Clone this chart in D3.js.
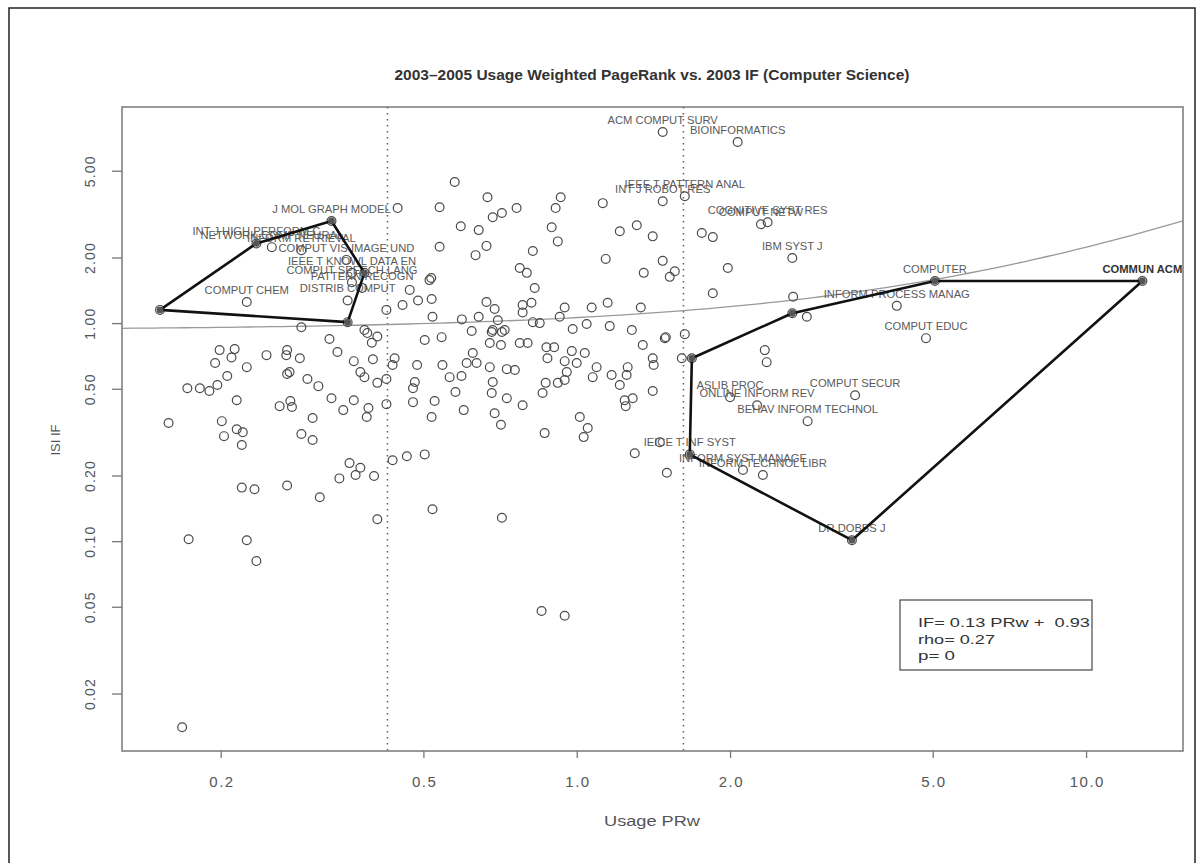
<!DOCTYPE html>
<html><head><meta charset="utf-8">
<script src="https://cdn.jsdelivr.net/npm/d3@7"></script>
<style>
html,body{margin:0;padding:0;background:#fff;}
svg{display:block;font-family:"Liberation Sans",Arial,sans-serif;}
</style></head>
<body><svg id="c" width="1199" height="863"></svg>
<script>
// ---------- data ----------
const title = "2003\u20132005 Usage Weighted PageRank vs. 2003 IF (Computer Science)";
const xTicks = [0.2, 0.5, 1, 2, 5, 10];
const xTickLabels = ["0.2", "0.5", "1.0", "2.0", "5.0", "10.0"];
const yTicks = [0.02, 0.05, 0.1, 0.2, 0.5, 1, 2, 5];
const yTickLabels = ["0.02", "0.05", "0.10", "0.20", "0.50", "1.00", "2.00", "5.00"];
const cutoffs = [0.425, 1.62];
const fitCoef = [0.13, 0.93]; // IF = a*PRw + b
const legendLines = ["IF= 0.13 PRw +  0.93", "rho= 0.27", "p= 0"];

const labelName = ["J MOL GRAPH MODEL","INT J HIGH PERFORM C","NETWORK-COMP NEURAL","INFORM RETRIEVAL",
  "COMPUT VIS IMAGE UND","IEEE T KNOWL DATA EN","COMPUT SPEECH LANG","PATTERN RECOGN","DISTRIB COMPUT","COMPUT CHEM",
  "ACM COMPUT SURV","BIOINFORMATICS","IEEE T PATTERN ANAL","INT J ROBOT RES","COGNITIVE SYST RES","COMPUT NETW",
  "IBM SYST J","COMPUTER","COMMUN ACM","INFORM PROCESS MANAG","COMPUT EDUC","ASLIB PROC","ONLINE INFORM REV",
  "COMPUT SECUR","BEHAV INFORM TECHNOL","IEICE T INF SYST","INFORM SYST MANAGE","INFORM TECHNOL LIBR","DR DOBBS J"];
const labelX = [0.330,0.235,0.252,0.288,0.353,0.362,0.362,0.379,0.355,0.225,
  1.475,2.07,1.63,1.475,2.37,2.30,2.65,5.05,12.9,4.25,4.85,2.00,2.26,3.52,2.84,1.667,2.12,2.32,3.47];
const labelY = [2.94,2.32,2.23,2.16,1.95,1.70,1.54,1.45,1.27,1.25,
  7.52,6.77,3.82,3.62,2.90,2.84,1.99,1.56,1.56,1.20,0.853,0.457,0.420,0.467,0.355,0.250,0.212,0.201,0.101];

const pointX = [0.152,0.383,0.355,0.445,0.538,0.538,0.576,0.514,0.518,0.470,0.488,0.519,0.521,0.423,0.455,0.288,0.383,
  0.199,0.213,0.210,0.195,0.225,0.206,0.172,0.182,0.190,0.197,0.215,0.158,0.201,0.215,0.221,0.203,0.220,
  0.246,0.270,0.269,0.286,0.273,0.270,0.296,0.311,0.261,0.276,0.274,0.303,0.288,0.303,0.327,0.339,0.330,0.348,
  0.365,0.390,0.387,0.365,0.376,0.383,0.398,0.406,0.423,0.396,0.406,0.388,0.439,0.435,0.423,0.486,0.481,0.477,
  0.477,0.526,0.519,0.545,0.503,0.543,0.358,0.376,0.368,0.400,0.342,0.435,0.464,0.503,0.220,0.233,0.270,0.313,
  0.406,0.521,0.173,0.225,0.235,0.168,
  0.622,0.681,0.713,0.710,0.675,0.773,0.801,0.872,0.903,0.876,0.978,1.037,0.947,1.00,0.608,0.625,0.636,0.675,
  0.729,0.756,0.563,0.594,0.684,0.681,0.729,0.578,0.600,0.690,0.710,0.783,0.857,0.869,0.918,0.947,0.956,
  1.094,1.075,1.171,1.215,1.253,1.259,1.242,1.288,1.248,1.410,1.416,1.410,1.348,1.489,1.630,1.608,0.865,1.014,
  1.051,1.032,1.300,1.503,0.713,0.853,0.947,
  0.668,0.684,0.713,0.762,0.592,0.642,0.893,0.909,0.930,0.918,0.665,0.633,0.820,0.773,0.798,0.827,1.125,1.215,
  1.312,1.410,1.140,1.354,1.475,1.558,1.523,0.665,0.690,0.783,0.783,0.815,0.642,0.595,0.947,1.070,1.150,1.336,
  0.926,0.820,0.846,0.700,0.684,0.722,0.982,1.046,1.161,1.283,1.496,1.760,1.850,1.980,1.850,2.66,2.83,2.65,
  2.34,2.36,1.683,1.456];
const pointY = [1.15,1.70,1.01,3.37,2.24,3.40,4.44,1.575,1.61,1.42,1.27,1.29,1.07,1.15,1.21,0.957,0.929,
  0.752,0.760,0.696,0.656,0.628,0.572,0.503,0.503,0.488,0.520,0.443,0.348,0.355,0.326,0.316,0.303,0.276,
  0.713,0.752,0.713,0.690,0.596,0.584,0.554,0.514,0.416,0.412,0.439,0.367,0.310,0.291,0.845,0.737,0.452,0.399,
  0.443,0.408,0.371,0.669,0.596,0.565,0.683,0.532,0.554,0.813,0.868,0.900,0.690,0.643,0.425,0.643,0.537,0.503,
  0.434,0.439,0.371,0.643,0.836,0.862,0.228,0.217,0.201,0.199,0.194,0.235,0.245,0.250,0.176,0.173,0.180,0.159,
  0.126,0.140,0.102,0.101,0.081,0.0140,
  0.920,0.910,0.910,0.793,0.810,0.810,0.810,0.775,0.775,0.690,0.744,0.729,0.669,0.656,0.656,0.729,0.656,0.628,
  0.615,0.609,0.565,0.572,0.537,0.478,0.452,0.483,0.399,0.386,0.342,0.420,0.478,0.532,0.532,0.548,0.596,
  0.628,0.565,0.578,0.520,0.578,0.628,0.443,0.452,0.416,0.690,0.643,0.488,0.793,0.853,0.890,0.690,0.313,0.371,
  0.330,0.300,0.253,0.206,0.128,0.0478,0.0455,
  3.78,3.06,3.20,3.37,2.78,2.67,2.75,3.37,3.78,2.37,2.26,2.05,2.14,1.79,1.70,1.45,3.55,2.64,
  2.81,2.50,1.97,1.70,1.93,1.73,1.63,1.25,1.16,1.21,1.12,1.24,1.07,1.04,1.18,1.18,1.24,1.18,
  1.07,1.01,1.00,1.03,0.929,0.929,0.939,0.990,0.969,0.929,0.862,2.59,2.48,1.79,1.37,1.32,1.07,1.11,
  0.752,0.662,0.690,0.284];

const leftHullX = [0.152,0.235,0.330,0.383,0.355];
const leftHullY = [1.15,2.32,2.94,1.70,1.01];
const rightHullX = [1.683,2.65,5.05,12.9,3.47,1.667];
const rightHullY = [0.690,1.11,1.56,1.56,0.101,0.250];

// ---------- chart ----------
const svg = d3.select("#c");
const L = 122, R = 1183, T = 107, B = 751;
const x = d3.scaleLog().domain([0.128, 15.5]).range([L, R]);
const y = d3.scaleLog().domain([0.0109, 9.8]).range([B, T]);

// outer frame
svg.append("rect").attr("x", 9).attr("y", 8).attr("width", 1186).attr("height", 870)
  .attr("fill", "none").attr("stroke", "#222").attr("stroke-width", 1.5);

svg.append("text").attr("x", 652).attr("y", 80).attr("text-anchor", "middle")
  .attr("font-size", 15).attr("font-weight", "bold").attr("fill", "#333")
  .attr("textLength", 515).attr("lengthAdjust", "spacingAndGlyphs").text(title);

const clipId = "plotclip";
svg.append("clipPath").attr("id", clipId).append("rect")
  .attr("x", L).attr("y", T).attr("width", R - L).attr("height", B - T);
const g = svg.append("g").attr("clip-path", `url(#${clipId})`);

// dotted cut-offs
g.selectAll("line.cut").data(cutoffs).join("line")
  .attr("x1", d => x(d)).attr("x2", d => x(d)).attr("y1", T).attr("y2", B)
  .attr("stroke", "#666").attr("stroke-width", 1.6).attr("stroke-dasharray", "1.5,4.5");

// regression curve
const fitX = d3.range(0, 101).map(i => 0.128 * Math.pow(15.5 / 0.128, i / 100));
g.append("path").datum(fitX)
  .attr("d", d3.line().x(d => x(d)).y(d => y(fitCoef[0] * d + fitCoef[1])))
  .attr("fill", "none").attr("stroke", "#999").attr("stroke-width", 1.3);

// points
const pts = pointX.map((v, i) => ({x: v, y: pointY[i]}));
const lab = labelName.map((n, i) => ({name: n, x: labelX[i], y: labelY[i]}));
g.selectAll("circle.p").data(pts.concat(lab)).join("circle")
  .attr("cx", d => x(d.x)).attr("cy", d => y(d.y)).attr("r", 4.4)
  .attr("fill", "none").attr("stroke", "#4a4a4a").attr("stroke-width", 1.2);

// labels
g.selectAll("text.lab").data(lab).join("text")
  .attr("x", d => x(d.x)).attr("y", d => y(d.y) - 8)
  .attr("text-anchor", "middle").attr("font-size", 11.2)
  .attr("font-weight", d => d.name === "COMMUN ACM" ? "bold" : "normal")
  .attr("fill", d => d.name === "COMMUN ACM" ? "#333" : "#5a5a5a").text(d => d.name);

// hulls
const hullLine = d3.line().x(d => x(d[0])).y(d => y(d[1])).curve(d3.curveLinearClosed);
[[leftHullX, leftHullY], [rightHullX, rightHullY]].forEach(([hx, hy]) => {
  const pp = hx.map((v, i) => [v, hy[i]]);
  g.append("path").datum(pp).attr("d", hullLine)
    .attr("fill", "none").attr("stroke", "#111").attr("stroke-width", 2.6).attr("stroke-linejoin", "round");
  g.selectAll(null).data(pp).join("circle")
    .attr("cx", d => x(d[0])).attr("cy", d => y(d[1])).attr("r", 3.4).attr("fill", "#555");
});

// plot box
svg.append("rect").attr("x", L).attr("y", T).attr("width", R - L).attr("height", B - T)
  .attr("fill", "none").attr("stroke", "#808080").attr("stroke-width", 1.6);

// axes
const xAxis = svg.append("g").attr("transform", `translate(0,${B})`)
  .call(d3.axisBottom(x).tickValues(xTicks).tickFormat((d, i) => xTickLabels[i]).tickSize(7).tickSizeOuter(0));
xAxis.select(".domain").remove();
xAxis.selectAll("line").attr("stroke", "#777").attr("stroke-width", 1.3);
xAxis.selectAll("text").attr("font-size", 15).attr("fill", "#555").attr("dy", "1.72em")
  .attr("letter-spacing", 1.5).attr("dx", 0.75)
  .attr("font-family", "Liberation Sans, Arial, sans-serif");

const yAxis = svg.append("g").attr("transform", `translate(${L},0)`)
  .call(d3.axisLeft(y).tickValues(yTicks).tickFormat((d, i) => yTickLabels[i]).tickSize(10).tickSizeOuter(0));
yAxis.select(".domain").remove();
yAxis.selectAll("line").attr("stroke", "#777").attr("stroke-width", 1.3);
yAxis.selectAll("text").attr("font-size", 14).attr("fill", "#555")
  .attr("font-family", "Liberation Sans, Arial, sans-serif").attr("letter-spacing", 1.2)
  .attr("x", null).attr("dy", null).attr("text-anchor", "middle")
  .attr("transform", "translate(-32,0) rotate(-90)").attr("y", 5);

svg.append("text").attr("x", 652).attr("y", 826).attr("text-anchor", "middle")
  .attr("font-size", 14).attr("fill", "#555")
  .attr("textLength", 96).attr("lengthAdjust", "spacingAndGlyphs").text("Usage PRw");
svg.append("text").attr("transform", "translate(60,440) rotate(-90)").attr("text-anchor", "middle")
  .attr("font-size", 13).attr("fill", "#555").text("ISI IF");

// legend
const legendLen = [172, 77, 37];
svg.append("rect").attr("x", 900).attr("y", 600).attr("width", 192).attr("height", 70)
  .attr("fill", "#fff").attr("stroke", "#555").attr("stroke-width", 1.3);
svg.selectAll("text.leg").data(legendLines).join("text")
  .attr("x", 918).attr("y", (d, i) => 627 + i * 16.5)
  .attr("xml:space", "preserve").style("white-space", "pre")
  .attr("textLength", (d, i) => legendLen[i]).attr("lengthAdjust", "spacingAndGlyphs")
  .attr("font-size", 13).attr("fill", "#333").text(d => d);
</script></body></html>
